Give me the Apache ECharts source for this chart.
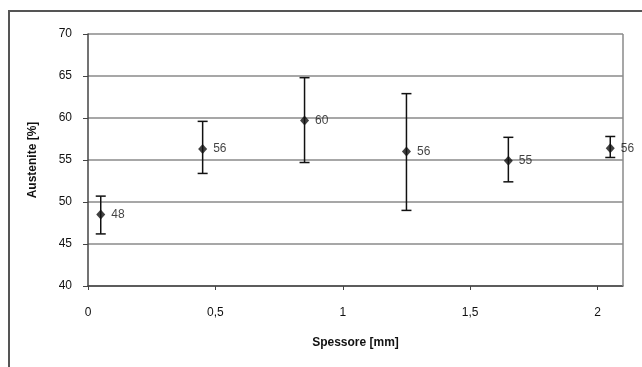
<!DOCTYPE html>
<html>
<head>
<meta charset="utf-8">
<script src="https://cdn.jsdelivr.net/npm/echarts@6/dist/echarts.min.js"></script>
<style>
  html, body { margin: 0; padding: 0; background: #fff; }
  #chart { width: 642px; height: 367px; }
</style>
</head>
<body>
<div id="chart"></div>
<script>
// spessore (mm), austenite (%) e barre d'errore
var spessore = [0.05, 0.45, 0.85, 1.25, 1.65, 2.05];
var austenite = [48.5, 56.3, 59.7, 56.0, 54.9, 56.4];
var errMin = [46.2, 53.4, 54.7, 49.0, 52.4, 55.3];
var errMax = [50.7, 59.6, 64.8, 62.9, 57.7, 57.8];
var etichette = ['48', '56', '60', '56', '55', '56'];
var yTicks = [40, 45, 50, 55, 60, 65, 70];
var xTicks = [0, 0.5, 1, 1.5, 2];

var font = 'Liberation Sans, Arial, sans-serif';

var puntiData = [];
var erroriData = [];
for (var i = 0; i < spessore.length; i++) {
    puntiData.push({ value: [spessore[i], austenite[i]], label: { formatter: etichette[i] } });
    erroriData.push([spessore[i], errMin[i], errMax[i]]);
}

var chart = echarts.init(document.getElementById('chart'));

var option = {
    animation: false,
    graphic: [{
        type: 'rect',
        shape: { x: 9, y: 11, width: 700, height: 400 },
        style: { fill: 'none', stroke: '#555', lineWidth: 2 },
        silent: true
    }],
    grid: { left: 88, top: 34, right: 19, bottom: 81 },
    xAxis: {
        type: 'value',
        min: 0,
        max: 2.1,
        interval: 0.5,
        name: 'Spessore [mm]',
        nameLocation: 'middle',
        nameGap: 51,
        nameTextStyle: { fontFamily: font, fontSize: 12, fontWeight: 'bold', color: '#111' },
        axisLine: { show: true, lineStyle: { color: '#444', width: 1.5 } },
        axisTick: { show: true, length: 4, lineStyle: { color: '#444' } },
        axisLabel: {
            margin: 21,
            fontFamily: font, fontSize: 12, color: '#111',
            showMaxLabel: false,
            formatter: function (v) {
                if (xTicks.indexOf(v) < 0) return '';
                return String(v).replace('.', ',');
            }
        },
        splitLine: { show: false }
    },
    yAxis: {
        type: 'value',
        min: 40,
        max: 70,
        interval: 5,
        name: 'Austenite [%]',
        nameLocation: 'middle',
        nameGap: 49,
        nameTextStyle: { fontFamily: font, fontSize: 12, fontWeight: 'bold', color: '#111' },
        axisLine: { show: true, lineStyle: { color: '#444', width: 1.5 } },
        axisTick: { show: true, length: 5, lineStyle: { color: '#444' } },
        axisLabel: {
            margin: 16,
            fontFamily: font, fontSize: 12, color: '#111',
            formatter: function (v) { return yTicks.indexOf(v) >= 0 ? String(v) : ''; }
        },
        splitLine: { show: true, lineStyle: { color: '#8a8a8a', width: 1.5 } }
    },
    series: [
        {
            // bordo destro dell'area del grafico
            type: 'line',
            data: [[2.1, 40], [2.1, 70]],
            symbol: 'none',
            lineStyle: { color: '#8a8a8a', width: 1.5 },
            silent: true,
            z: 1
        },
        {
            type: 'custom',
            data: erroriData,
            renderItem: function (params, api) {
                var x = api.value(0);
                var lo = api.coord([x, api.value(1)]);
                var hi = api.coord([x, api.value(2)]);
                var w = 5;
                var st = { stroke: '#111', lineWidth: 1.5 };
                return {
                    type: 'group',
                    children: [
                        { type: 'line', shape: { x1: lo[0], y1: lo[1], x2: hi[0], y2: hi[1] }, style: st },
                        { type: 'line', shape: { x1: lo[0] - w, y1: lo[1], x2: lo[0] + w, y2: lo[1] }, style: st },
                        { type: 'line', shape: { x1: hi[0] - w, y1: hi[1], x2: hi[0] + w, y2: hi[1] }, style: st }
                    ]
                };
            },
            z: 3
        },
        {
            type: 'scatter',
            data: puntiData,
            symbol: 'diamond',
            symbolSize: [9, 10],
            itemStyle: { color: '#111' },
            label: {
                show: true,
                position: 'right',
                distance: 6,
                fontFamily: font,
                fontSize: 12,
                color: '#111'
            },
            z: 4
        }
    ]
};

chart.setOption(option);
</script>
</body>
</html>
